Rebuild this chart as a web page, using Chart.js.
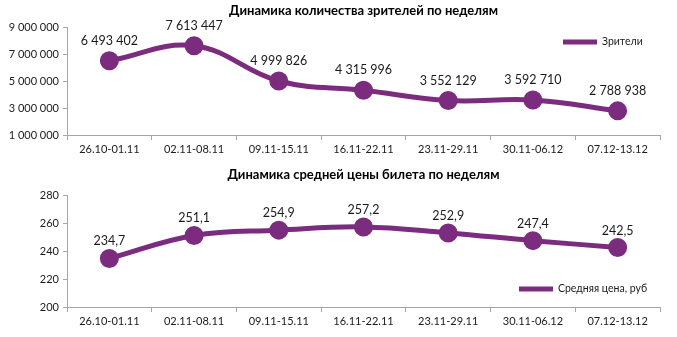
<!DOCTYPE html>
<html>
<head>
<meta charset="utf-8">
<script src="https://cdn.jsdelivr.net/npm/chart.js@4.4.1/dist/chart.umd.min.js"></script>
<style>
  body { margin: 0; background: #fff; }
  .box { position: absolute; left: 0; width: 677px; }
  #top { top: 0; height: 160px; }
  #bottom { top: 160px; height: 177px; }
</style>
</head>
<body>
<div class="box" id="top"><canvas id="viewersChart"></canvas></div>
<div class="box" id="bottom"><canvas id="priceChart"></canvas></div>
<script>
const weeks = ['26.10-01.11', '02.11-08.11', '09.11-15.11', '16.11-22.11', '23.11-29.11', '30.11-06.12', '07.12-13.12'];
const viewers = [6493402, 7613447, 4999826, 4315996, 3552129, 3592710, 2788938];
const avgPrice = [234.7, 251.1, 254.9, 257.2, 252.9, 247.4, 242.5];
const viewerTicks = [1000000, 3000000, 5000000, 7000000, 9000000];
const priceTicks = [200, 220, 240, 260, 280];

const purple = '#7b2c7e';
const axisGray = '#a6a6a6';
const FONT = 'Lato, "Open Sans", sans-serif';

Chart.defaults.font.family = FONT;
Chart.defaults.color = '#1a1a1a';
Chart.defaults.animation = false;

const spaced = v => String(v).replace(/\B(?=(\d{3})+(?!\d))/g, ' ');
const comma = v => v.toFixed(1).replace('.', ',');

// value labels above every point
const valueLabels = {
  id: 'valueLabels',
  afterDatasetsDraw(chart, args, opts) {
    const c = chart.ctx;
    const meta = chart.getDatasetMeta(0);
    c.save();
    c.font = '12.5px ' + FONT;
    c.fillStyle = '#1a1a1a';
    c.textAlign = 'center';
    c.textBaseline = 'middle';
    meta.data.forEach((pt, i) => {
      c.fillText(opts.format(chart.data.datasets[0].data[i]), pt.x, pt.y - opts.lift);
    });
    c.restore();
  }
};

// small legend sitting inside the plot
const innerLegend = {
  id: 'innerLegend',
  afterDraw(chart, args, opts) {
    const c = chart.ctx;
    c.save();
    c.strokeStyle = purple;
    c.lineWidth = 5;
    c.beginPath();
    c.moveTo(opts.x, opts.y);
    c.lineTo(opts.x + 34, opts.y);
    c.stroke();
    c.font = '10.5px ' + FONT;
    c.fillStyle = '#1a1a1a';
    c.textBaseline = 'middle';
    c.fillText(chart.data.datasets[0].label, opts.x + 39, opts.y);
    c.restore();
  }
};

function makeChart(el, cfg) {
  return new Chart(el, {
    type: 'line',
    data: {
      labels: weeks,
      datasets: [{
        label: cfg.label,
        data: cfg.data,
        borderColor: purple,
        backgroundColor: purple,
        borderWidth: 5,
        pointRadius: 7,
        pointHoverRadius: 7,
        tension: 0.4
      }]
    },
    options: {
      responsive: true,
      maintainAspectRatio: false,
      layout: { padding: { left: 0, right: 17, top: 0, bottom: 0 } },
      plugins: {
        legend: { display: false },
        tooltip: { enabled: false },
        title: {
          display: true,
          text: cfg.title,
          fullSize: false,
          font: { size: 13, weight: 'bold' },
          color: '#000',
          padding: cfg.titlePad
        },
        valueLabels: { format: cfg.format, lift: cfg.lift },
        innerLegend: cfg.legend
      },
      scales: {
        x: {
          offset: true,
          grid: { offset: true, drawOnChartArea: false, tickLength: 5, color: axisGray },
          border: { color: axisGray },
          ticks: { font: { size: 11 }, padding: 3, maxRotation: 0 },
          afterFit: s => { s.height = cfg.xHeight; }
        },
        y: {
          min: cfg.ticks[0],
          max: cfg.ticks[cfg.ticks.length - 1],
          afterBuildTicks: s => { s.ticks = cfg.ticks.map(v => ({ value: v })); },
          grid: { drawOnChartArea: false, tickLength: 4, color: axisGray },
          border: { color: axisGray },
          ticks: { font: { size: 11 }, padding: 4, callback: cfg.tickFormat },
          afterFit: s => { s.width = 67; }
        }
      }
    },
    plugins: [valueLabels, innerLegend]
  });
}

makeChart(document.getElementById('viewersChart'), {
  label: 'Зрители',
  title: 'Динамика количества зрителей по неделям',
  data: viewers,
  ticks: viewerTicks,
  tickFormat: v => spaced(v),
  format: v => spaced(v),
  lift: 20,
  titlePad: { top: 3, bottom: 8.4 },
  xHeight: 25,
  legend: { x: 563, y: 42 }
});

makeChart(document.getElementById('priceChart'), {
  label: 'Средняя цена, руб',
  title: 'Динамика средней цены билета по неделям',
  data: avgPrice,
  ticks: priceTicks,
  tickFormat: v => v,
  format: v => comma(v),
  lift: 17,
  titlePad: { top: 7, bottom: 12.4 },
  xHeight: 30,
  legend: { x: 519, y: 129 }
});
</script>
</body>
</html>
